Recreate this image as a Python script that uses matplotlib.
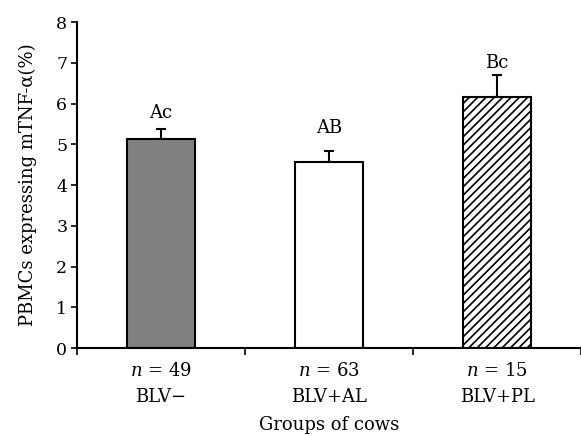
import matplotlib.pyplot as plt

plt.rcParams['font.family'] = 'DejaVu Serif'
plt.rcParams['mathtext.fontset'] = 'dejavuserif'
plt.rcParams['hatch.linewidth'] = 1.2

groups = ['BLV\u2212', 'BLV+AL', 'BLV+PL']
n_cows = [49, 63, 15]
means = [5.13, 4.56, 6.16]
errors = [0.24, 0.27, 0.54]
letters = ['Ac', 'AB', 'Bc']
letter_y = [5.64, 5.28, 6.87]
colors = ['#808080', 'white', 'white']
hatches = ['', '', '////']

fig = plt.figure(figsize=(5.81, 4.36), dpi=100)
ax = fig.add_axes([0.1325, 0.2018, 0.8675, 0.7477])

xpos = [0.5, 1.5, 2.5]
for i in range(3):
    ax.bar(xpos[i], means[i], width=0.4, color=colors[i], edgecolor='black',
           linewidth=1.5, hatch=hatches[i], zorder=2)
    ax.errorbar(xpos[i], means[i], yerr=[[0], [errors[i]]], fmt='none',
                ecolor='black', elinewidth=1.5, capsize=3.5, capthick=1.5, zorder=1)
    ax.text(xpos[i], letter_y[i], letters[i], ha='center', va='baseline', fontsize=13)

ax.set_xlim(0, 3)
ax.set_ylim(0, 8)
ax.set_yticks(range(9))
ax.set_xticks([0, 1, 2, 3])
ax.set_xticklabels([])
ax.set_xticks(xpos, minor=True)
ax.set_xticklabels(['$\\it{n}$ = %d\n%s' % (n, g) for n, g in zip(n_cows, groups)],
                   minor=True, fontsize=13, linespacing=1.6)
ax.tick_params(axis='x', which='minor', length=0, pad=10)
ax.tick_params(axis='x', which='major', length=5, width=1.2, direction='out')
ax.tick_params(axis='y', length=4, width=1.2, labelsize=12.5, direction='out', pad=3)

ax.spines['top'].set_visible(False)
ax.spines['right'].set_visible(False)
ax.spines['left'].set_linewidth(1.5)
ax.spines['bottom'].set_linewidth(1.5)

ax.set_ylabel('PBMCs expressing mTNF-\u03b1(%)', fontsize=13, labelpad=14)
ax.set_xlabel('Groups of cows', fontsize=13, labelpad=7)

plt.savefig('out.png', dpi=100)
